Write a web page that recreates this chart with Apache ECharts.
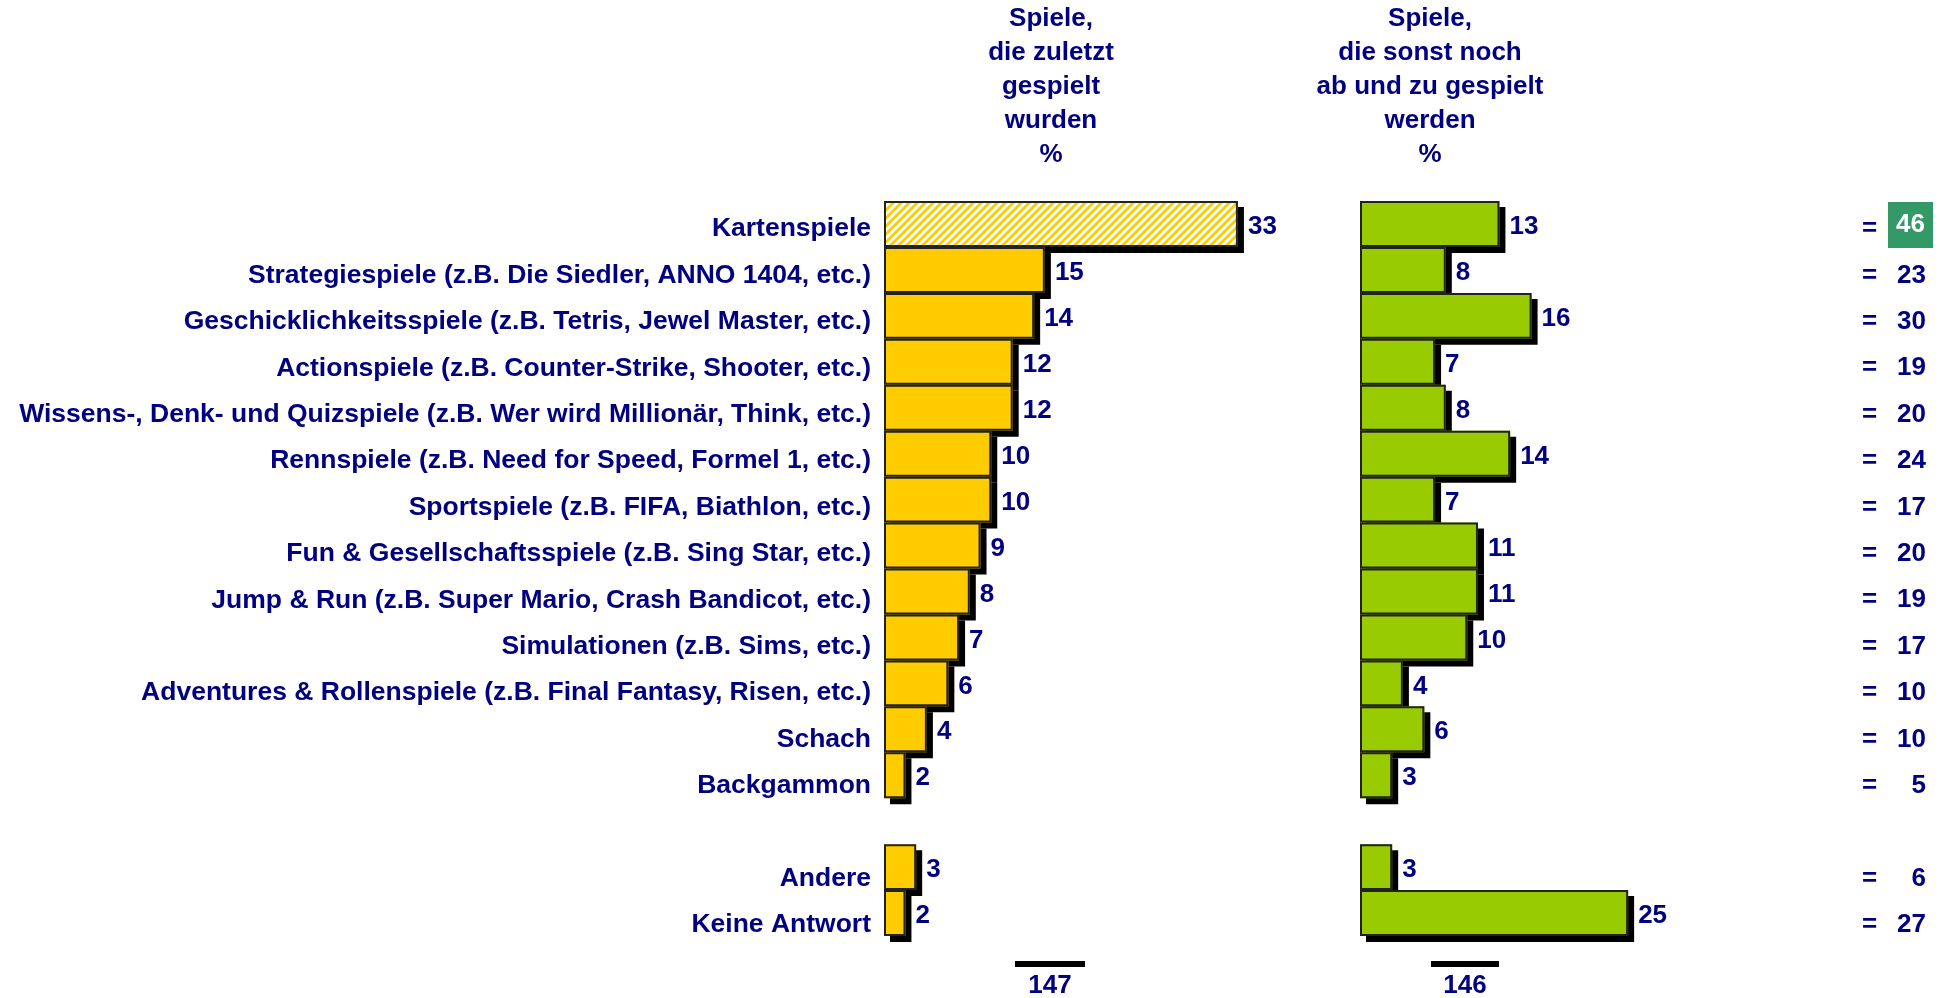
<!DOCTYPE html>
<html>
<head>
<meta charset="utf-8">
<script src="https://cdn.jsdelivr.net/npm/echarts@6/dist/echarts.min.js"></script>
<style>
  html, body { margin: 0; padding: 0; background: #fff; }
  #chart { width: 1943px; height: 998px; }
</style>
</head>
<body>
<div id="chart"></div>
<script>
const categories = [
    'Kartenspiele',
    'Strategiespiele (z.B. Die Siedler, ANNO 1404, etc.)',
    'Geschicklichkeitsspiele (z.B. Tetris, Jewel Master, etc.)',
    'Actionspiele (z.B. Counter-Strike, Shooter, etc.)',
    'Wissens-, Denk- und Quizspiele (z.B. Wer wird Millionär, Think, etc.)',
    'Rennspiele (z.B. Need for Speed, Formel 1, etc.)',
    'Sportspiele (z.B. FIFA, Biathlon, etc.)',
    'Fun & Gesellschaftsspiele (z.B. Sing Star, etc.)',
    'Jump & Run (z.B. Super Mario, Crash Bandicot, etc.)',
    'Simulationen (z.B. Sims, etc.)',
    'Adventures & Rollenspiele (z.B. Final Fantasy, Risen, etc.)',
    'Schach',
    'Backgammon',
    '',
    'Andere',
    'Keine Antwort'
];
const lastPlayed  = [33, 15, 14, 12, 12, 10, 10, 9, 8, 7, 6, 4, 2, null, 3, 2];
const otherPlayed = [13, 8, 16, 7, 8, 14, 7, 11, 11, 10, 4, 6, 3, null, 3, 25];
const totals      = [46, 23, 30, 19, 20, 24, 17, 20, 19, 17, 10, 10, 5, null, 6, 27];
const bases = [147, 146];
const headers = [
    'Spiele,\ndie zuletzt\ngespielt\nwurden\n%',
    'Spiele,\ndie sonst noch\nab und zu gespielt\nwerden\n%'
];

const NAVY = '#000080';
const FONT = '"Liberation Sans", Arial, sans-serif';

// diagonal hatch for the highlighted bar
const hatch = document.createElement('canvas');
hatch.width = 8; hatch.height = 8;
(function () {
    const c = hatch.getContext('2d');
    c.fillStyle = '#fff';
    c.fillRect(0, 0, 8, 8);
    c.strokeStyle = '#FFCC00';
    c.lineWidth = 2.8;
    [[-8, 8, 8, -8], [0, 8, 8, 0], [0, 16, 16, 0]].forEach(l => {
        c.beginPath(); c.moveTo(l[0], l[1]); c.lineTo(l[2], l[3]); c.stroke();
    });
})();

const chart = echarts.init(document.getElementById('chart'));

// fill with drop shadow (no border, so the shadow stays outside)
const fillStyle = color => ({
    color, borderWidth: 0,
    shadowColor: '#000', shadowBlur: 0, shadowOffsetX: 6, shadowOffsetY: 6
});
// border drawn on top, without shadow
const edgeStyle = { color: 'rgba(0,0,0,0)', borderColor: '#222', borderWidth: 2 };

const valueLabel = {
    show: true, position: 'right', distance: 10, offset: [0, 3],
    color: NAVY, fontSize: 26, fontWeight: 'bold', fontFamily: FONT
};

const leftData = lastPlayed.map((v, i) => i === 0
    ? { value: v, itemStyle: { color: { image: hatch, repeat: 'repeat' } } }
    : v);

// the boxed total sits a bit higher, in line with its bar
const totalsAxisData = categories.map((c, i) => i === 0
    ? { value: c, textStyle: { padding: [0, 0, 8, 0] } }
    : c);

const barGrid = { top: 201, height: 735, width: 429 };
const hiddenCat = {
    type: 'category', data: categories, inverse: true,
    axisLine: { show: false }, axisTick: { show: false }, axisLabel: { show: false }
};
const txt = { color: NAVY, fontSize: 26, fontWeight: 'bold', fontFamily: FONT };

chart.setOption({
    animation: false,
    grid: [
        Object.assign({ left: 884 }, barGrid),
        Object.assign({ left: 1360 }, barGrid),
        // labels sit on a slightly wider pitch than the bars
        { left: 884, width: 905, top: 205.8, height: 742.4 }
    ],
    xAxis: [
        { gridIndex: 0, type: 'value', min: 0, max: 40, show: false },
        { gridIndex: 1, type: 'value', min: 0, max: 40, show: false },
        { gridIndex: 2, type: 'value', min: 0, max: 40, show: false }
    ],
    yAxis: [
        Object.assign({ gridIndex: 0 }, hiddenCat),
        Object.assign({ gridIndex: 1 }, hiddenCat),
        {
            gridIndex: 2, type: 'category', data: categories, inverse: true,
            axisLine: { show: false }, axisTick: { show: false },
            axisLabel: Object.assign({ margin: 13 }, txt, { fontSize: 26.5 })
        },
        {
            gridIndex: 2, type: 'category', data: totalsAxisData, inverse: true, position: 'right',
            axisLine: { show: false }, axisTick: { show: false },
            axisLabel: {
                margin: 73, align: 'left',
                formatter: (v, i) => totals[i] == null ? '' :
                    (i === 0 ? '{eq0|=}{hl|' + totals[i] + '}' : '{eq|=}{n|' + totals[i] + '}'),
                rich: {
                    eq: Object.assign({ width: 26 }, txt),
                    eq0: Object.assign({ width: 26, padding: [8, 0, 0, 0] }, txt),
                    n: Object.assign({ width: 38, align: 'right' }, txt),
                    hl: Object.assign({}, txt, {
                        width: 45, height: 46, align: 'center', color: '#fff', backgroundColor: '#339966'
                    })
                }
            }
        }
    ],
    series: [
        {
            type: 'bar', xAxisIndex: 0, yAxisIndex: 0, data: leftData,
            barCategoryGap: '0%', barGap: '-100%', itemStyle: fillStyle('#FFCC00'), label: valueLabel
        },
        {
            type: 'bar', xAxisIndex: 1, yAxisIndex: 1, data: otherPlayed,
            barCategoryGap: '0%', barGap: '-100%', itemStyle: fillStyle('#99CC00'), label: valueLabel
        },
        {
            type: 'bar', xAxisIndex: 0, yAxisIndex: 0, data: lastPlayed,
            barCategoryGap: '0%', barGap: '-100%', itemStyle: edgeStyle, silent: true
        },
        {
            type: 'bar', xAxisIndex: 1, yAxisIndex: 1, data: otherPlayed,
            barCategoryGap: '0%', barGap: '-100%', itemStyle: edgeStyle, silent: true
        }
    ],
    graphic: [
        { type: 'text', x: 1051, y: 2, style: { text: headers[0], textAlign: 'center', textVerticalAlign: 'top', lineHeight: 34, fill: NAVY, font: 'bold 26px ' + FONT } },
        { type: 'text', x: 1430, y: 2, style: { text: headers[1], textAlign: 'center', textVerticalAlign: 'top', lineHeight: 34, fill: NAVY, font: 'bold 26px ' + FONT } },
        { type: 'rect', shape: { x: 1015, y: 961, width: 70, height: 6 }, style: { fill: '#000' } },
        { type: 'rect', shape: { x: 1431, y: 961, width: 68, height: 6 }, style: { fill: '#000' } },
        { type: 'text', x: 1050, y: 986, style: { text: String(bases[0]), textAlign: 'center', textVerticalAlign: 'middle', fill: NAVY, font: 'bold 26px ' + FONT } },
        { type: 'text', x: 1465, y: 986, style: { text: String(bases[1]), textAlign: 'center', textVerticalAlign: 'middle', fill: NAVY, font: 'bold 26px ' + FONT } }
    ]
});
</script>
</body>
</html>
